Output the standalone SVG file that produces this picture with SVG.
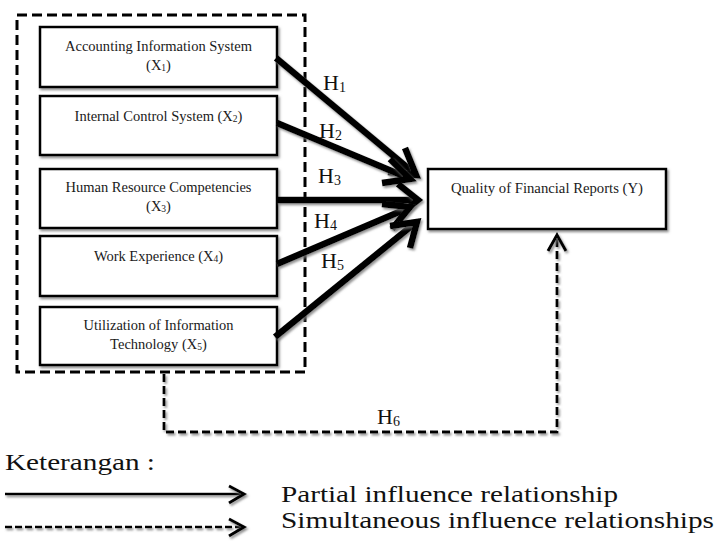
<svg xmlns="http://www.w3.org/2000/svg" width="718" height="543" viewBox="0 0 718 543">
<defs>
<filter id="sh" filterUnits="userSpaceOnUse" x="0" y="0" width="718" height="543">
<feDropShadow dx="1.5" dy="2" stdDeviation="0.8" flood-color="#777" flood-opacity="0.8"/>
</filter>
</defs>
<style>
.box{fill:#fff;stroke:#000;stroke-width:2.5;filter:url(#sh)}
.bt{font-family:"Liberation Serif","Times New Roman",serif;font-size:14.5px;fill:#1a1a1a;text-anchor:middle}
.sub{font-size:9.5px}
.h{font-family:"Liberation Serif","Times New Roman",serif;font-size:22px;fill:#111}
.hs{font-size:14px}
.thick{fill:none;stroke:#000;stroke-width:6.5;stroke-linecap:butt;filter:url(#sh)}
.head{fill:none;stroke:#000;stroke-width:6.5;stroke-linejoin:miter;stroke-linecap:butt;filter:url(#sh)}
.dash{fill:none;stroke:#000;stroke-width:2.8;stroke-dasharray:8 4;filter:url(#sh)}
.leg{font-family:"Liberation Serif","Times New Roman",serif;font-size:24px;fill:#111}
</style>
<rect id="group-box" x="17" y="15" width="288" height="357" fill="none" stroke="#000" stroke-width="3" stroke-dasharray="10 5"/>
<g id="x1"><rect class="box" x="40" y="27" width="237" height="60"/>
<text class="bt" x="158.5" y="51" textLength="187" lengthAdjust="spacingAndGlyphs">Accounting Information System</text>
<text class="bt" x="158.5" y="70">(X<tspan class="sub" dy="1">1</tspan><tspan dy="-1">)</tspan></text></g>
<g id="x2"><rect class="box" x="40" y="96" width="237" height="59"/>
<text class="bt" x="158.5" y="121">Internal Control System (X<tspan class="sub" dy="1">2</tspan><tspan dy="-1">)</tspan></text></g>
<g id="x3"><rect class="box" x="40" y="169" width="237" height="59"/>
<text class="bt" x="158.5" y="192" textLength="186" lengthAdjust="spacingAndGlyphs">Human Resource Competencies</text>
<text class="bt" x="158.5" y="211">(X<tspan class="sub" dy="1">3</tspan><tspan dy="-1">)</tspan></text></g>
<g id="x4"><rect class="box" x="40" y="236" width="237" height="60"/>
<text class="bt" x="158.5" y="261">Work Experience  (X<tspan class="sub" dy="1">4</tspan><tspan dy="-1">)</tspan></text></g>
<g id="x5"><rect class="box" x="40" y="307" width="237" height="58"/>
<text class="bt" x="158.5" y="330" textLength="150" lengthAdjust="spacingAndGlyphs">Utilization of Information</text>
<text class="bt" x="158.5" y="349">Technology (X<tspan class="sub" dy="1">5</tspan><tspan dy="-1">)</tspan></text></g>
<g id="y"><rect class="box" x="428" y="169" width="238" height="60"/>
<text class="bt" x="547" y="193" textLength="192" lengthAdjust="spacingAndGlyphs">Quality of Financial Reports  (Y)</text></g>
<g id="connectors">
<line class="thick" x1="276" y1="58" x2="414" y2="173"/>
<polyline class="head" points="405,148 416,175 388,172"/>
<line class="thick" x1="277" y1="123" x2="406" y2="177"/>
<polyline class="head" points="390,159 410,179 382,183"/>
<line class="thick" x1="277" y1="200" x2="415" y2="200"/>
<polyline class="head" points="398,184 418,200 398,216"/>
<line class="thick" x1="277" y1="264" x2="406" y2="209"/>
<polyline class="head" points="382,204 410,207 392,229"/>
<line class="thick" x1="275" y1="337" x2="414" y2="224"/>
<polyline class="head" points="390,226 417,222 410,248"/>
<polyline class="dash" points="164,374 164,432 557,432 557,236"/>
<polyline fill="none" stroke="#000" stroke-width="3" points="548,251 557,235 566,251" filter="url(#sh)"/>
</g>
<g id="labels">
<text class="h" x="323" y="90">H<tspan class="hs" dy="2">1</tspan></text>
<text class="h" x="319" y="138">H<tspan class="hs" dy="2">2</tspan></text>
<text class="h" x="318" y="183">H<tspan class="hs" dy="2">3</tspan></text>
<text class="h" x="314" y="228">H<tspan class="hs" dy="2">4</tspan></text>
<text class="h" x="321" y="268">H<tspan class="hs" dy="2">5</tspan></text>
<text class="h" x="377" y="424" font-size="20">H<tspan class="hs" dy="2" font-size="12">6</tspan></text>
</g>
<g id="legend">
<text class="leg" x="5" y="470" textLength="150" lengthAdjust="spacingAndGlyphs">Keterangan :</text>
<line x1="5" y1="494" x2="242" y2="494" stroke="#000" stroke-width="2.5" filter="url(#sh)"/>
<polyline fill="none" stroke="#000" stroke-width="3" points="229,486 244,494 229,503" filter="url(#sh)"/>
<line x1="5" y1="527" x2="242" y2="527" stroke="#000" stroke-width="2.5" stroke-dasharray="7 3" filter="url(#sh)"/>
<polyline fill="none" stroke="#000" stroke-width="3" points="229,519 244,527 229,536" filter="url(#sh)"/>
<text class="leg" x="281" y="502" textLength="337" lengthAdjust="spacingAndGlyphs">Partial influence relationship</text>
<text class="leg" x="281" y="528" textLength="433" lengthAdjust="spacingAndGlyphs">Simultaneous influence relationships</text>
</g>
</svg>
